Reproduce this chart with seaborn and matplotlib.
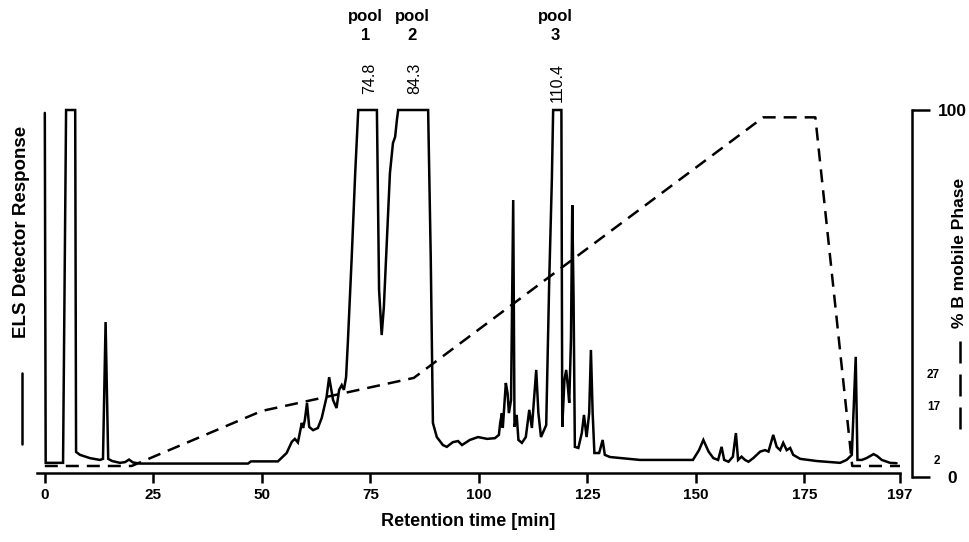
import matplotlib
matplotlib.use("Agg")
import matplotlib.pyplot as plt
import seaborn as sns
import pandas as pd
from matplotlib.lines import Line2D

# ---------------- data ----------------
time_min = [0.0, 0.2, 4.2, 4.9, 7.0, 7.2, 8.1, 10.4, 12.7, 13.4, 14.0, 14.6, 15.5, 17.3,
            18.5, 19.4, 20.3, 21.9, 46.8, 47.5, 53.7, 55.7, 56.9, 57.6, 58.3, 59.2, 59.5,
            59.9, 60.4, 60.9, 61.8, 62.9, 63.8, 64.9, 65.5, 66.4, 67.2, 67.8, 68.4, 68.9,
            69.4, 69.8, 70.7, 71.5, 72.2, 76.5, 77.0, 77.6, 78.1, 78.8, 79.5, 80.2, 80.7,
            81.1, 81.4, 88.3, 88.9, 89.4, 90.3, 91.7, 92.6, 94.0, 95.2, 96.1, 97.9, 99.8,
            101.9, 103.7, 104.6, 104.9, 105.3, 105.5, 106.2, 106.6, 106.9, 107.4, 107.9,
            108.2, 108.7, 109.1, 109.9, 110.8, 111.6, 112.2, 113.2, 113.7, 114.3, 115.5,
            116.2, 116.8, 117.1, 119.0, 119.2, 119.7, 120.1, 120.5, 120.8, 121.2, 121.5,
            121.8, 122.1, 122.9, 123.7, 124.2, 124.8, 125.4, 125.8, 126.2, 126.6, 127.7,
            128.5, 129.0, 130.2, 137.1, 149.3, 150.7, 151.7, 152.9, 154.0, 155.1, 155.9,
            156.5, 157.5, 158.5, 159.2, 159.7, 160.5, 161.3, 162.1, 163.2, 164.8, 165.9,
            166.7, 167.8, 168.6, 169.4, 170.1, 170.9, 171.7, 172.4, 174.0, 177.8, 183.2,
            184.7, 185.9, 186.8, 187.2, 188.2, 189.3, 190.9, 191.7, 192.8, 194.7, 196.2]
els_signal = [99.2, 2.8, 2.8, 100, 100, 5.8, 5.0, 4.1, 3.6, 3.9, 41.6, 3.9, 3.3, 2.8,
              3.0, 3.7, 2.9, 2.6, 2.6, 3.2, 3.2, 5.5, 8.6, 9.4, 8.4, 13.8, 12.4,
              14.6, 19.3, 12.7, 11.8, 12.4, 15.2, 20.9, 26.4, 20.1, 17.9, 22.9, 24.2, 22.9,
              26.4, 35.8, 59.5, 82.6, 100, 100, 50.4, 38.0, 45.7, 64.2, 82.6, 90.9, 92.6,
              97.2, 100, 100, 59.5, 13.8, 9.9, 7.7, 7.2, 8.5, 8.8, 7.7, 9.1, 9.9,
              9.4, 9.6, 10.5, 13.8, 16.5, 12.4, 24.8, 22.0, 16.5, 20.1, 75.2,
              12.7, 16.0, 9.1, 8.3, 9.9, 17.4, 12.4, 28.4, 16.5, 9.9, 13.2,
              53.2, 80.7, 100, 100, 12.7, 25.6, 28.4, 23.7, 19.3, 36.6, 73.8,
              48.5, 7.2, 6.9, 11.0, 16.0, 9.9, 16.5, 33.9, 16.5, 5.5, 5.5,
              9.1, 5.0, 4.4, 3.6, 3.6, 6.3, 9.1, 5.9, 4.1, 3.6, 7.2,
              3.6, 3.1, 4.5, 11.0, 3.6, 4.5, 3.6, 3.1, 4.1, 5.9, 6.3,
              5.9, 10.5, 7.2, 6.3, 8.3, 6.3, 6.9, 5.0, 3.9, 3.3, 2.8,
              3.6, 5.0, 32.0, 3.6, 3.6, 4.1, 5.2, 4.7, 3.6, 2.8, 2.7]

grad_time = [0, 20, 50, 85, 165.5, 177.5, 186, 197]
grad_pct_b = [3, 3, 18, 27, 98, 98, 3, 3]

x_ticks = [0, 25, 50, 75, 100, 125, 150, 175, 197]
right_ticks = [0, 100]
gradient_marks = ["27", "17", "2"]
gradient_mark_levels = [27.8, 19.1, 4.4]
pool_labels = ["pool\n1", "pool\n2", "pool\n3"]
pool_fraction_times = ["74.8", "84.3", "110.4"]

# ---------------- style ----------------
sns.set_theme(style="white")
plt.rcParams['font.family'] = ['Liberation Sans', 'DejaVu Sans']
for key in ["text.color", "axes.labelcolor", "xtick.color", "ytick.color",
            "axes.edgecolor"]:
    plt.rcParams[key] = "black"

W, H = 970, 542
fig = plt.figure(figsize=(W / 100, H / 100), dpi=100)


def fx(px):
    return px / W


def fy(py):
    return 1 - py / H


LW = 1.8
ax = fig.add_axes([fx(37), fy(473), fx(900) - fx(37), fy(110) - fy(473)])
ax2 = fig.add_axes([fx(37), fy(477), fx(900) - fx(37), fy(110) - fy(477)])

sig = pd.DataFrame({"t": time_min, "s": els_signal})
grad = pd.DataFrame({"t": grad_time, "b": grad_pct_b})

sns.lineplot(data=sig, x="t", y="s", ax=ax, color="black", lw=LW,
             sort=False, estimator=None)
for ln in ax.lines:
    ln.set_clip_on(False)
    ln.set_solid_joinstyle("miter")

sns.lineplot(data=grad, x="t", y="b", ax=ax2, color="black", lw=LW,
             sort=False, estimator=None)
gl = ax2.lines[-1]
gl.set_dashes([5.2, 3.2])
gl.set_clip_on(False)

# main axis
ax.set_xlim(-1.8, 197)
ax.set_ylim(0, 100)
for side in ["left", "top", "right"]:
    ax.spines[side].set_visible(False)
ax.spines["bottom"].set_linewidth(LW)
ax.spines["bottom"].set_color("black")
ax.set_xticks(x_ticks)
ax.set_xticklabels([str(v) for v in x_ticks])
ax.set_yticks([])
ax.tick_params(axis="x", bottom=True, direction="out", length=7.5, width=LW,
               color="black", pad=3, labelcolor="black")
for lab in ax.get_xticklabels():
    lab.set_fontweight("bold")
    lab.set_fontsize(11)
ax.set_xlabel("Retention time [min]", fontsize=13, fontweight="bold", labelpad=8,
              color="black")
ax.set_ylabel("ELS Detector Response", fontsize=13.5, fontweight="bold",
              color="black")
ax.yaxis.set_label_coords((22 - 37) / 863, (473 - 232) / 363)
ax.yaxis.label.set_va("center")
ax.patch.set_visible(False)

# right (gradient) axis
ax2.set_xlim(-1.8, 197)
ax2.set_ylim(0, 100)
ax2.patch.set_visible(False)
for side in ["left", "top", "bottom"]:
    ax2.spines[side].set_visible(False)
ax2.spines["right"].set_position(("outward", 8.6))
ax2.spines["right"].set_linewidth(LW)
ax2.spines["right"].set_color("black")
ax2.set_xticks([])
ax2.set_xlabel("")
ax2.yaxis.tick_right()
ax2.set_yticks(right_ticks)
ax2.set_yticklabels([str(v) for v in right_ticks])
ax2.tick_params(axis="y", right=True, left=False, direction="out", length=13,
                width=LW, color="black", pad=16, labelsize=12.5, labelcolor="black")
for lab in ax2.get_yticklabels():
    lab.set_fontweight("bold")
    lab.set_ha("center")
ax2.yaxis.set_label_position("right")
ax2.set_ylabel("% B mobile Phase", fontsize=12.5, fontweight="bold", rotation=90,
               color="black")
ax2.yaxis.set_label_coords((960 - 37) / 863, (477 - 253) / 367)
ax2.yaxis.label.set_va("center")

for txt, lvl in zip(gradient_marks, gradient_mark_levels):
    ax2.text((940 - 37) / 863, lvl, txt, transform=ax2.get_yaxis_transform(),
             ha="right", va="center", fontsize=8.5, fontweight="bold", color="black")

# pool annotations
pool_x = [73.8, 84.6, 117.5]
frac_x = [74.9, 85.3, 118.0]
for x, txt in zip(pool_x, pool_labels):
    ax.text(x, (473 - 26) / 363, txt, transform=ax.get_xaxis_transform(),
            ha="center", va="center", fontsize=12, fontweight="bold",
            linespacing=1.3, color="black")
for x, txt in zip(frac_x, pool_fraction_times):
    ax.text(x, (473 - 63) / 363, txt, transform=ax.get_xaxis_transform(),
            ha="center", va="top", rotation=90, fontsize=11.5, color="black")

# legend marks next to the axis titles
fig.add_artist(Line2D([fx(22), fx(22)], [fy(373), fy(444)], transform=fig.transFigure,
                      color="black", lw=LW))
dl = Line2D([fx(960), fx(960)], [fy(341), fy(429)], transform=fig.transFigure,
            color="black", lw=LW)
dl.set_dashes([8.8, 4.4])
fig.add_artist(dl)

fig.savefig("out.png", dpi=100)
